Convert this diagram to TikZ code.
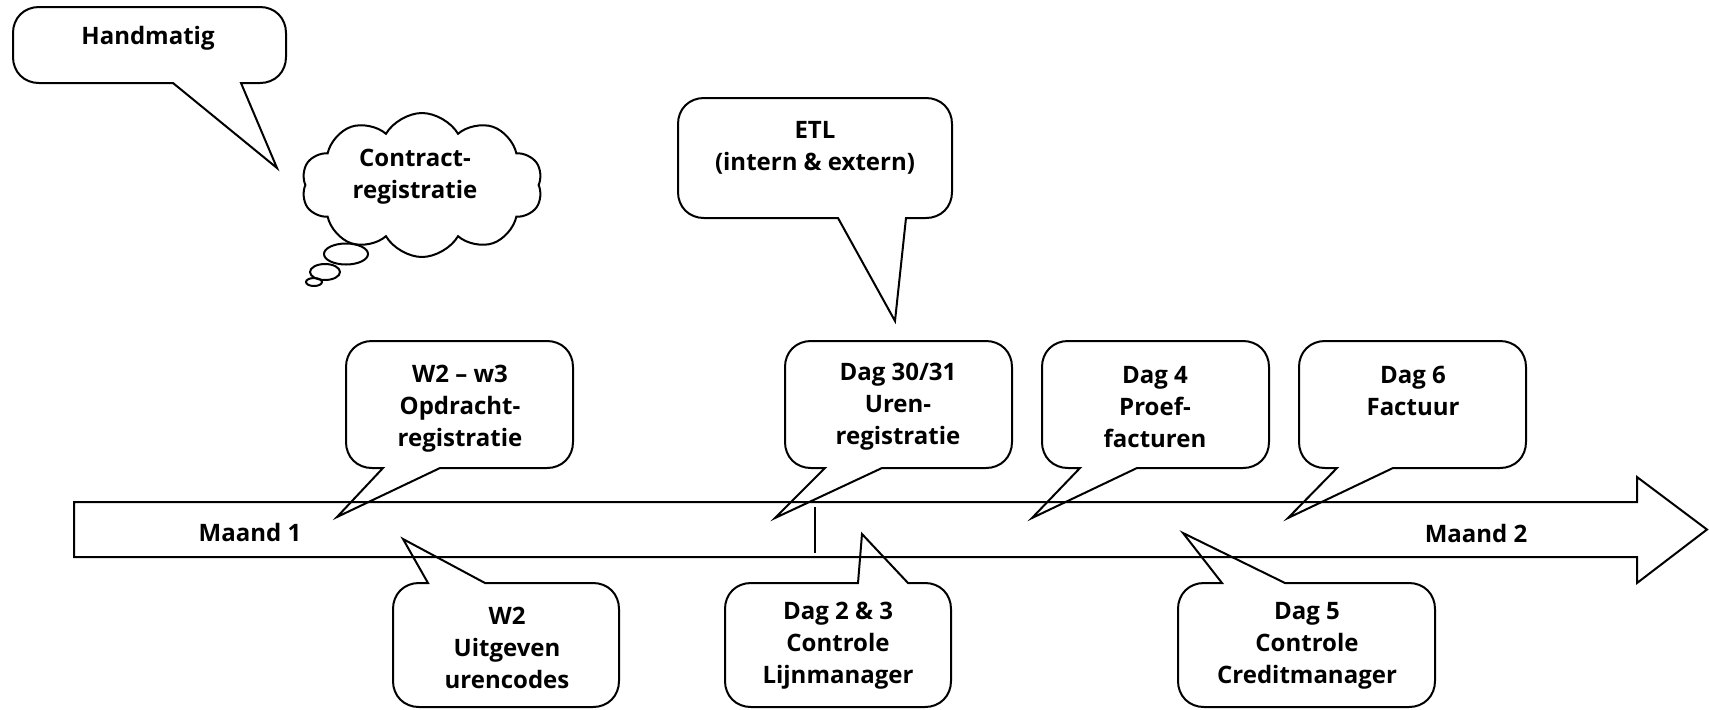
\documentclass[tikz,border=0pt]{standalone}
\usepackage{fontspec}
\setmainfont{Open Sans}
\usetikzlibrary{shapes.symbols}
\tikzset{
  cl/.style={line width=1pt, line join=miter},
  lbl/.style={font=\bfseries\fontsize{12}{16}\selectfont, align=center, inner sep=0pt},
}
% callout with pointer below: x1 y1 x2 y2 b1 b2 tx ty
\newcommand\calldown[8]{%
 \draw[cl] (#7,#8) -- (#6,#4) -- ({#3-26},#4) .. controls ({#3-11},#4) and (#3,{#4-11}) .. (#3,{#4-26})
   -- (#3,{#2+26}) .. controls (#3,{#2+11}) and ({#3-11},#2) .. ({#3-26},#2)
   -- ({#1+26},#2) .. controls ({#1+11},#2) and (#1,{#2+11}) .. (#1,{#2+26})
   -- (#1,{#4-26}) .. controls (#1,{#4-11}) and ({#1+11},#4) .. ({#1+26},#4)
   -- (#5,#4) -- cycle;}
% callout with pointer above: x1 y1 x2 y2 b1 b2 tx ty
\newcommand\callup[8]{%
 \draw[cl] (#7,#8) -- (#6,#2) -- ({#3-26},#2) .. controls ({#3-11},#2) and (#3,{#2+11}) .. (#3,{#2+26})
   -- (#3,{#4-26}) .. controls (#3,{#4-11}) and ({#3-11},#4) .. ({#3-26},#4)
   -- ({#1+26},#4) .. controls ({#1+11},#4) and (#1,{#4-11}) .. (#1,{#4-26})
   -- (#1,{#2+26}) .. controls (#1,{#2+11}) and ({#1+11},#2) .. ({#1+26},#2)
   -- (#5,#2) -- cycle;}
\begin{document}
\begin{tikzpicture}[x=0.5pt,y=-0.5pt]
\useasboundingbox (0,0) rectangle (1709,709);

% timeline arrow
\draw[cl] (74,502) -- (1637,502) -- (1637,477) -- (1707,529.5) -- (1637,583) -- (1637,557) -- (74,557) -- cycle;
\coordinate (d1) at (815,507);
\coordinate (d2) at (815,553);
\draw[cl] (d1) -- (d2);
\node[lbl] (m1) at (250,532) {Maand 1};
\node[lbl] (m2) at (1476,533) {Maand 2};

% Handmatig
\calldown{13}{7}{286}{83}{173}{241}{277}{168}
\node[lbl] (hand) at (148,38) {Handmatig};

% cloud
\node[cloud, draw, line width=1pt, cloud puffs=10, cloud puff arc=120, aspect=1.67,
      minimum width=120.5pt, minimum height=72pt, inner sep=0pt] (cloud) at (422,185) {};
\node[lbl] (contract) at (415,177) {Contract-\\registratie};
\draw[cl] (346,254) ellipse [x radius=22, y radius=10.5];
\draw[cl] (325,272) ellipse [x radius=15, y radius=8];
\draw[cl] (314,282) ellipse [x radius=8, y radius=4];

% ETL
\calldown{678}{98}{952}{218}{838}{906}{895}{321}
\node[lbl] (etl) at (815,148) {ETL\\(intern \& extern)};

% top callouts
\calldown{346}{341}{573}{468}{383}{440}{337}{517}
\node[lbl] (w23) at (460,409) {W2 -- w3\\Opdracht-\\registratie};
\calldown{785}{341}{1012}{468}{825}{882}{775}{518}
\node[lbl] (d3031) at (898,407) {Dag 30/31\\Uren-\\registratie};
\calldown{1042}{341}{1269}{468}{1080}{1137}{1032}{518}
\node[lbl] (d4) at (1155,407) {Dag 4\\Proef-\\facturen};
\calldown{1299}{341}{1526}{468}{1337}{1393}{1288}{518}
\node[lbl] (d6) at (1413,391) {Dag 6\\Factuur};

% bottom callouts
\callup{393}{583}{619}{707}{428}{485}{403}{539}
\node[lbl] (w2) at (507,648) {W2\\Uitgeven\\urencodes};
\callup{725}{583}{951}{707}{858}{908}{862}{534}
\node[lbl] (d23) at (838,646) {Dag 2 \& 3\\Controle\\Lijnmanager};
\callup{1178}{583}{1435}{707}{1222}{1285}{1183}{533}
\node[lbl] (d5) at (1307,646) {Dag 5\\Controle\\Creditmanager};
\end{tikzpicture}
\end{document}
